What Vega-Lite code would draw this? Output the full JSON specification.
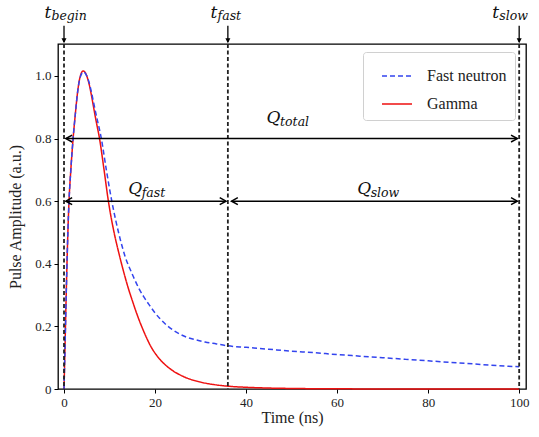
{
  "$schema": "https://vega.github.io/schema/vega-lite/v6.json",
  "width": 468,
  "height": 345,
  "autosize": {"type": "none"},
  "padding": {"left": 58, "top": 44, "right": 13, "bottom": 48},
  "background": "white",
  "config": {
    "view": {"stroke": "black", "strokeWidth": 1.3},
    "font": "Liberation Serif",
    "axis": {
      "domain": false,
      "grid": false,
      "tickColor": "black",
      "tickSize": 4,
      "tickWidth": 1,
      "labelColor": "#222",
      "labelFont": "Liberation Serif",
      "labelFontSize": 13,
      "titleFont": "Liberation Serif",
      "titleFontSize": 16,
      "titleFontWeight": "normal",
      "titleColor": "#222"
    }
  },
  "datasets": {
    "curves": [
      {"t": 0, "v": 0, "series": "Gamma"},
      {"t": 0.2, "v": 0.12, "series": "Gamma"},
      {"t": 0.4, "v": 0.25, "series": "Gamma"},
      {"t": 0.6, "v": 0.37, "series": "Gamma"},
      {"t": 0.85, "v": 0.5, "series": "Gamma"},
      {"t": 1.1, "v": 0.6, "series": "Gamma"},
      {"t": 1.5, "v": 0.7, "series": "Gamma"},
      {"t": 2.0, "v": 0.8, "series": "Gamma"},
      {"t": 2.5, "v": 0.88, "series": "Gamma"},
      {"t": 3.0, "v": 0.95, "series": "Gamma"},
      {"t": 3.5, "v": 0.995, "series": "Gamma"},
      {"t": 4.2, "v": 1.016, "series": "Gamma"},
      {"t": 5.0, "v": 1.0, "series": "Gamma"},
      {"t": 5.5, "v": 0.975, "series": "Gamma"},
      {"t": 6.0, "v": 0.94, "series": "Gamma"},
      {"t": 6.5, "v": 0.9, "series": "Gamma"},
      {"t": 7.0, "v": 0.86, "series": "Gamma"},
      {"t": 7.8, "v": 0.8, "series": "Gamma"},
      {"t": 8.8, "v": 0.7, "series": "Gamma"},
      {"t": 9.75, "v": 0.6, "series": "Gamma"},
      {"t": 11, "v": 0.5, "series": "Gamma"},
      {"t": 12, "v": 0.437, "series": "Gamma"},
      {"t": 13, "v": 0.38, "series": "Gamma"},
      {"t": 14, "v": 0.328, "series": "Gamma"},
      {"t": 15.2, "v": 0.274, "series": "Gamma"},
      {"t": 16, "v": 0.24, "series": "Gamma"},
      {"t": 17.4, "v": 0.188, "series": "Gamma"},
      {"t": 19, "v": 0.138, "series": "Gamma"},
      {"t": 21.1, "v": 0.094, "series": "Gamma"},
      {"t": 23, "v": 0.068, "series": "Gamma"},
      {"t": 26.2, "v": 0.04, "series": "Gamma"},
      {"t": 30, "v": 0.022, "series": "Gamma"},
      {"t": 33, "v": 0.014, "series": "Gamma"},
      {"t": 36, "v": 0.009, "series": "Gamma"},
      {"t": 40, "v": 0.0055, "series": "Gamma"},
      {"t": 45, "v": 0.003, "series": "Gamma"},
      {"t": 50, "v": 0.0017, "series": "Gamma"},
      {"t": 60, "v": 0.0006, "series": "Gamma"},
      {"t": 70, "v": 0.0002, "series": "Gamma"},
      {"t": 80, "v": 0.0001, "series": "Gamma"},
      {"t": 100, "v": 0, "series": "Gamma"},
      {"t": 0, "v": 0, "series": "Fast neutron"},
      {"t": 0.2, "v": 0.12, "series": "Fast neutron"},
      {"t": 0.4, "v": 0.25, "series": "Fast neutron"},
      {"t": 0.6, "v": 0.37, "series": "Fast neutron"},
      {"t": 0.85, "v": 0.5, "series": "Fast neutron"},
      {"t": 1.1, "v": 0.6, "series": "Fast neutron"},
      {"t": 1.5, "v": 0.7, "series": "Fast neutron"},
      {"t": 2.0, "v": 0.8, "series": "Fast neutron"},
      {"t": 2.5, "v": 0.88, "series": "Fast neutron"},
      {"t": 3.0, "v": 0.95, "series": "Fast neutron"},
      {"t": 3.5, "v": 0.993, "series": "Fast neutron"},
      {"t": 4.3, "v": 1.013, "series": "Fast neutron"},
      {"t": 5.0, "v": 1.0, "series": "Fast neutron"},
      {"t": 5.5, "v": 0.98, "series": "Fast neutron"},
      {"t": 6.0, "v": 0.95, "series": "Fast neutron"},
      {"t": 6.5, "v": 0.915, "series": "Fast neutron"},
      {"t": 7.0, "v": 0.88, "series": "Fast neutron"},
      {"t": 8.2, "v": 0.8, "series": "Fast neutron"},
      {"t": 9.3, "v": 0.7, "series": "Fast neutron"},
      {"t": 10.5, "v": 0.6, "series": "Fast neutron"},
      {"t": 11.5, "v": 0.53, "series": "Fast neutron"},
      {"t": 12.5, "v": 0.47, "series": "Fast neutron"},
      {"t": 13.5, "v": 0.42, "series": "Fast neutron"},
      {"t": 14.9, "v": 0.37, "series": "Fast neutron"},
      {"t": 15.5, "v": 0.35, "series": "Fast neutron"},
      {"t": 16.5, "v": 0.32, "series": "Fast neutron"},
      {"t": 17.5, "v": 0.295, "series": "Fast neutron"},
      {"t": 18.9, "v": 0.265, "series": "Fast neutron"},
      {"t": 20, "v": 0.243, "series": "Fast neutron"},
      {"t": 21, "v": 0.226, "series": "Fast neutron"},
      {"t": 22.6, "v": 0.203, "series": "Fast neutron"},
      {"t": 24, "v": 0.188, "series": "Fast neutron"},
      {"t": 25.5, "v": 0.175, "series": "Fast neutron"},
      {"t": 27, "v": 0.165, "series": "Fast neutron"},
      {"t": 29, "v": 0.157, "series": "Fast neutron"},
      {"t": 31, "v": 0.15, "series": "Fast neutron"},
      {"t": 33.5, "v": 0.144, "series": "Fast neutron"},
      {"t": 36, "v": 0.138, "series": "Fast neutron"},
      {"t": 40, "v": 0.133, "series": "Fast neutron"},
      {"t": 45, "v": 0.127, "series": "Fast neutron"},
      {"t": 50, "v": 0.121, "series": "Fast neutron"},
      {"t": 55, "v": 0.116, "series": "Fast neutron"},
      {"t": 60, "v": 0.11, "series": "Fast neutron"},
      {"t": 65, "v": 0.105, "series": "Fast neutron"},
      {"t": 70, "v": 0.1, "series": "Fast neutron"},
      {"t": 75, "v": 0.095, "series": "Fast neutron"},
      {"t": 80, "v": 0.09, "series": "Fast neutron"},
      {"t": 85, "v": 0.085, "series": "Fast neutron"},
      {"t": 90, "v": 0.08, "series": "Fast neutron"},
      {"t": 95, "v": 0.075, "series": "Fast neutron"},
      {"t": 100, "v": 0.071, "series": "Fast neutron"}
    ],
    "marks": [
      {"t": 0, "name": "begin"},
      {"t": 36, "name": "fast"},
      {"t": 100, "name": "slow"}
    ],
    "spans": [
      {"x1": 0.4, "x2": 99.6, "y": 0.8, "name": "total"},
      {"x1": 0.4, "x2": 35.6, "y": 0.6, "name": "fast"},
      {"x1": 36.8, "x2": 99.6, "y": 0.6, "name": "slow"}
    ],
    "heads": [
      {"x": 0.4, "y": 0.8, "dir": "left"},
      {"x": 99.6, "y": 0.8, "dir": "right"},
      {"x": 0.4, "y": 0.6, "dir": "left"},
      {"x": 35.6, "y": 0.6, "dir": "right"},
      {"x": 36.8, "y": 0.6, "dir": "left"},
      {"x": 99.6, "y": 0.6, "dir": "right"}
    ],
    "tlabels": [
      {"x": -4.3, "y": 1.1837, "main": "t", "sub": "begin"},
      {"x": 32.2, "y": 1.1837, "main": "t", "sub": "fast"},
      {"x": 94.1, "y": 1.1837, "main": "t", "sub": "slow"}
    ],
    "qlabels": [
      {"x": 44.5, "y": 0.85, "main": "Q", "sub": "total"},
      {"x": 14.1, "y": 0.623, "main": "Q", "sub": "fast"},
      {"x": 64.4, "y": 0.623, "main": "Q", "sub": "slow"}
    ]
  },
  "layer": [
    {
      "data": {"name": "curves"},
      "mark": {"type": "line", "strokeWidth": 1.5, "interpolate": "monotone"},
      "encoding": {
        "x": {
          "field": "t", "type": "quantitative", "title": "Time (ns)",
          "scale": {"domain": [-1.32, 101.5], "nice": false, "zero": false},
          "axis": {"title": "Time (ns)", "values": [0, 20, 40, 60, 80, 100], "format": "d", "labelPadding": 3, "titlePadding": 0}
        },
        "y": {
          "field": "v", "type": "quantitative", "title": "Pulse Amplitude (a.u.)",
          "scale": {"domain": [0, 1.102], "nice": false},
          "axis": {"title": "Pulse Amplitude (a.u.)", "values": [0, 0.2, 0.4, 0.6, 0.8, 1.0], "labelExpr": "datum.value == 0 ? '0' : format(datum.value, '.1f')", "labelPadding": 3, "titlePadding": 11}
        },
        "color": {
          "field": "series", "type": "nominal",
          "scale": {"domain": ["Fast neutron", "Gamma"], "range": ["#3344ee", "#ee1111"]},
          "legend": {"orient": "none", "legendX": 305, "legendY": 8, "title": null, "symbolType": "stroke", "symbolSize": 900, "symbolStrokeWidth": 1.5, "labelFont": "Liberation Serif", "labelFontSize": 16, "labelColor": "#222", "padding": 8, "strokeColor": "#d0d0d0", "fillColor": "white", "cornerRadius": 3, "rowPadding": 4, "labelOffset": 14, "symbolOffset": 10}
        },
        "strokeDash": {
          "field": "series", "type": "nominal",
          "scale": {"domain": ["Fast neutron", "Gamma"], "range": [[5, 3], [1, 0]]},
          "legend": {"orient": "none", "legendX": 305, "legendY": 8, "title": null, "symbolType": "stroke", "symbolSize": 900, "symbolStrokeWidth": 1.5, "labelFont": "Liberation Serif", "labelFontSize": 16, "labelColor": "#222", "padding": 8, "strokeColor": "#d0d0d0", "fillColor": "white", "cornerRadius": 3, "rowPadding": 4, "labelOffset": 14, "symbolOffset": 10}
        }
      }
    },
    {
      "data": {"name": "marks"},
      "mark": {"type": "rule", "color": "#222", "strokeDash": [4, 2.5], "strokeWidth": 1.8},
      "encoding": {
        "x": {"field": "t", "type": "quantitative", "title": "Time (ns)"}
      }
    },
    {
      "data": {"name": "marks"},
      "mark": {"type": "rule", "color": "black", "strokeWidth": 1.3},
      "encoding": {
        "x": {"field": "t", "type": "quantitative", "title": "Time (ns)"},
        "y": {"datum": 1.16, "type": "quantitative", "title": "Pulse Amplitude (a.u.)"},
        "y2": {"datum": 1.108}
      }
    },
    {
      "data": {"name": "marks"},
      "mark": {"type": "point", "shape": "M-0.5,-1L0,0L0.5,-1Z", "filled": true, "color": "black", "size": 100, "opacity": 1},
      "encoding": {
        "x": {"field": "t", "type": "quantitative", "title": "Time (ns)"},
        "y": {"datum": 1.104, "type": "quantitative", "title": "Pulse Amplitude (a.u.)"}
      }
    },
    {
      "data": {"name": "spans"},
      "mark": {"type": "rule", "color": "black", "strokeWidth": 1.5},
      "encoding": {
        "x": {"field": "x1", "type": "quantitative", "title": "Time (ns)"},
        "x2": {"field": "x2"},
        "y": {"field": "y", "type": "quantitative", "title": "Pulse Amplitude (a.u.)"}
      }
    },
    {
      "data": {"name": "heads"},
      "mark": {"type": "point", "filled": false, "color": "black", "strokeWidth": 1.5, "size": 160, "opacity": 1},
      "encoding": {
        "x": {"field": "x", "type": "quantitative", "title": "Time (ns)"},
        "y": {"field": "y", "type": "quantitative", "title": "Pulse Amplitude (a.u.)"},
        "shape": {"field": "dir", "type": "nominal", "scale": {"domain": ["left", "right"], "range": ["M1,-0.55L0,0L1,0.55", "M-1,-0.55L0,0L-1,0.55"]}, "legend": null}
      }
    },
    {
      "data": {"name": "tlabels"},
      "mark": {"type": "text", "font": "DejaVu Serif", "fontStyle": "italic", "fontSize": 17, "align": "left", "baseline": "alphabetic", "color": "#111"},
      "encoding": {
        "x": {"field": "x", "type": "quantitative", "title": "Time (ns)"},
        "y": {"field": "y", "type": "quantitative", "title": "Pulse Amplitude (a.u.)"},
        "text": {"field": "main"}
      }
    },
    {
      "data": {"name": "tlabels"},
      "mark": {"type": "text", "font": "DejaVu Serif", "fontStyle": "italic", "fontSize": 12.5, "align": "left", "baseline": "alphabetic", "dx": 7, "dy": 2, "color": "#111"},
      "encoding": {
        "x": {"field": "x", "type": "quantitative", "title": "Time (ns)"},
        "y": {"field": "y", "type": "quantitative", "title": "Pulse Amplitude (a.u.)"},
        "text": {"field": "sub"}
      }
    },
    {
      "data": {"name": "qlabels"},
      "mark": {"type": "text", "font": "DejaVu Serif", "fontStyle": "italic", "fontSize": 17, "align": "left", "baseline": "alphabetic", "color": "#111"},
      "encoding": {
        "x": {"field": "x", "type": "quantitative", "title": "Time (ns)"},
        "y": {"field": "y", "type": "quantitative", "title": "Pulse Amplitude (a.u.)"},
        "text": {"field": "main"}
      }
    },
    {
      "data": {"name": "qlabels"},
      "mark": {"type": "text", "font": "DejaVu Serif", "fontStyle": "italic", "fontSize": 12.5, "align": "left", "baseline": "alphabetic", "dx": 13.5, "dy": 3, "color": "#111"},
      "encoding": {
        "x": {"field": "x", "type": "quantitative", "title": "Time (ns)"},
        "y": {"field": "y", "type": "quantitative", "title": "Pulse Amplitude (a.u.)"},
        "text": {"field": "sub"}
      }
    }
  ]
}
